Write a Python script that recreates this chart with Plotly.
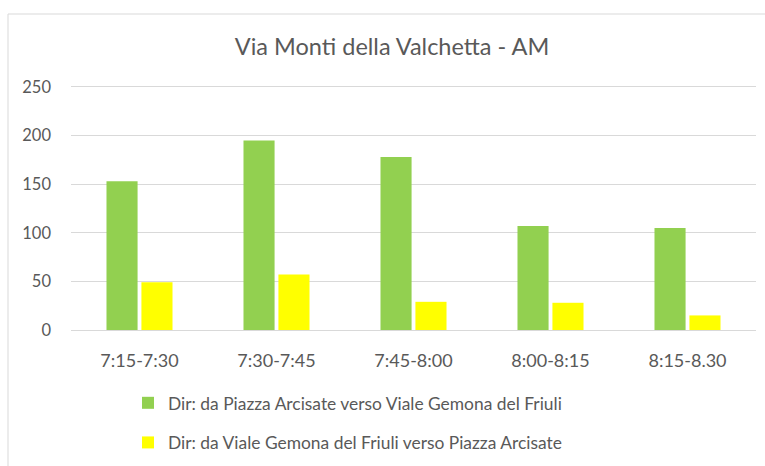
import plotly.graph_objects as go

categories = ["7:15-7:30", "7:30-7:45", "7:45-8:00", "8:00-8:15", "8:15-8.30"]
series_names = [
    "Dir: da Piazza Arcisate verso Viale Gemona del Friuli",
    "Dir: da Viale Gemona del Friuli verso Piazza Arcisate",
]
green_values = [153, 195, 178, 107, 105]
yellow_values = [49, 57, 29, 28, 15]
y_ticks = [0, 50, 100, 150, 200, 250]

FONT = "Lato"
GRAY = "#595959"

fig = go.Figure()
fig.add_trace(go.Bar(x=categories, y=green_values, name=series_names[0],
                     marker=dict(color="#92d050", line=dict(width=0)), legendgroup="a"))
fig.add_trace(go.Bar(x=categories, y=yellow_values, name=series_names[1],
                     marker=dict(color="#ffff00", line=dict(width=0)), legendgroup="b"))

L, R, T, B = 71, 9, 85, 136
W, H = 765, 466
pw = W - L - R
ph = H - T - B

fig.update_layout(
    width=W, height=H,
    margin=dict(l=L, r=R, t=T, b=B, pad=0, autoexpand=False),
    paper_bgcolor="white", plot_bgcolor="white",
    barmode="group", bargap=0.49, bargroupgap=0.11,
    font=dict(family=FONT, color=GRAY, size=18),
    title=dict(text="Via Monti della Valchetta - AM", x=392 / W, xanchor="center",
               y=1 - 47 / H, yanchor="middle", font=dict(size=23.5, color=GRAY, family=FONT)),
    showlegend=True,
    legend=dict(x=(128 - L) / pw, xanchor="left", y=-(385 - (H - B)) / ph, yanchor="top",
                font=dict(size=17.4, color=GRAY, family=FONT), tracegroupgap=14,
                traceorder="grouped", itemwidth=30, bgcolor="rgba(0,0,0,0)"),
    xaxis=dict(showgrid=False, showline=False, ticks="", tickfont=dict(size=18, color=GRAY),
               ticklabelstandoff=18),
    yaxis=dict(range=[0, 252], tickvals=y_ticks, showgrid=True, gridcolor="#d9d9d9",
               gridwidth=1, zeroline=True, zerolinecolor="#d9d9d9", zerolinewidth=1,
               showline=False, ticks="", tickfont=dict(size=16.5, color=GRAY),
               ticklabelstandoff=19),
    shapes=[dict(type="rect", xref="paper", yref="paper",
                 x0=(8 - L) / pw, x1=3, y0=-3, y1=(H - B - 14) / ph,
                 line=dict(color="#d9d9d9", width=1), fillcolor="rgba(0,0,0,0)", layer="below")],
)

fig.write_html(
    "out.html",
    config={"displayModeBar": False},
    post_script="document.body.style.margin='0';document.body.style.overflow='hidden';",
)
